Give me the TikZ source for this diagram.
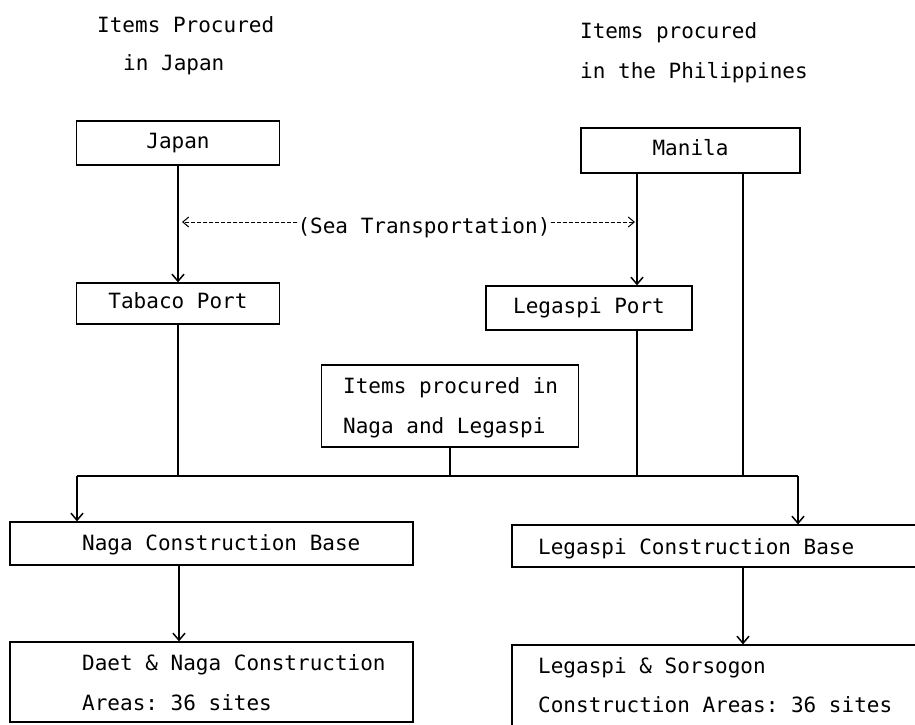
\documentclass[tikz,border=0pt]{standalone}
\usepackage{fontspec}
\setmonofont{DejaVu Sans Mono}
\usetikzlibrary{arrows.meta}
\begin{document}
\begin{tikzpicture}[x=1pt,y=-1pt,
  txt/.style={font=\ttfamily\fontsize{21}{25}\selectfont, inner sep=0pt},
  box/.style={draw, line width=1.3pt, inner sep=0pt, text height=15pt, text depth=5pt,
              font=\ttfamily\fontsize{21}{25}\selectfont},
  conn/.style={line width=1.5pt},
  arr/.style={line width=1.5pt, -{Straight Barb[length=7pt,width=12pt]}},
  darr/.style={line width=1pt, dash pattern=on 4pt off 2pt, -{Straight Barb[length=6pt,width=10pt]}}]
\useasboundingbox (0,0) rectangle (915,724);
\fill[white] (0,0) rectangle (915,724);
\clip (0,0) rectangle (915,724);

% titles
\node[txt, anchor=base west] (t1a) at (97,32) {Items Procured};
\node[txt, anchor=base west] (t1b) at (123,70) {in Japan};
\node[txt, anchor=base west] (t2a) at (580,38) {Items procured};
\node[txt, anchor=base west] (t2b) at (580,78) {in the Philippines};

% boxes
\node[box, minimum width=203pt, minimum height=44pt] (japan) at (178,143) {Japan};
\node[box, minimum width=203pt, minimum height=41pt] (tabaco) at (178,303.5) {Tabaco Port};
\node[box, minimum width=219pt, minimum height=45pt] (manila) at (690.5,150.5) {Manila};
\node[box, minimum width=206pt, minimum height=44pt] (legport) at (589,308) {Legaspi Port};

\node[box, minimum width=257pt, minimum height=82pt] (local) at (450,406) {};
\node[txt, anchor=base west] (local1) at (343,393) {Items procured in};
\node[txt, anchor=base west] (local2) at (343,433) {Naga and Legaspi};

\node[box, minimum width=403pt, minimum height=43pt] (nagabase) at (211.5,543.5) {};
\node[txt, anchor=base west] (nagabaset) at (82,550) {Naga Construction Base};
\node[box, minimum width=413pt, minimum height=42pt] (legbase) at (718.5,546) {};
\node[txt, anchor=base west] (legbaset) at (538,554) {Legaspi Construction Base};

\node[box, minimum width=403pt, minimum height=80pt] (daet) at (211.5,682) {};
\node[txt, anchor=base west] (daet1) at (82,670) {Daet \& Naga Construction};
\node[txt, anchor=base west] (daet2) at (82,710) {Areas: 36 sites};
\node[box, minimum width=413pt, minimum height=85pt] (legsor) at (718.5,687.5) {};
\node[txt, anchor=base west] (legsor1) at (538,673) {Legaspi \& Sorsogon};
\node[txt, anchor=base west] (legsor2) at (538,712) {Construction Areas: 36 sites};

% sea transportation
\node[txt, anchor=base] (sea) at (424,233) {(Sea Transportation)};
\coordinate (seaL) at (182,222);
\coordinate (seaR) at (635,222);

% helper coordinates
\coordinate (xA) at (637,0);
\coordinate (xB) at (743,0);
\coordinate (xL) at (77,0);
\coordinate (xR) at (798,0);
\coordinate (xD) at (179,0);
\coordinate (yJ) at (0,476);

% connectors
\draw[arr] (japan.south) -- (tabaco.north);
\draw[arr] (manila.south -| xA) -- (legport.north -| xA);
\draw[darr] (sea.west |- seaL) -- (seaL);
\draw[darr] (sea.east |- seaR) -- (seaR);

\draw[conn] (tabaco.south) -- (tabaco.south |- yJ);
\draw[conn] (legport.south -| xA) -- (xA |- yJ);
\draw[conn] (manila.south -| xB) -- (xB |- yJ);
\draw[conn] (local.south) -- (local.south |- yJ);
\draw[conn] (xL |- yJ) -- (xR |- yJ);
\draw[arr] (xL |- yJ) -- (nagabase.north -| xL);
\draw[arr] (xR |- yJ) -- (legbase.north -| xR);
\draw[arr] (nagabase.south -| xD) -- (daet.north -| xD);
\draw[arr] (legbase.south -| xB) -- (legsor.north -| xB);
\end{tikzpicture}
\end{document}
